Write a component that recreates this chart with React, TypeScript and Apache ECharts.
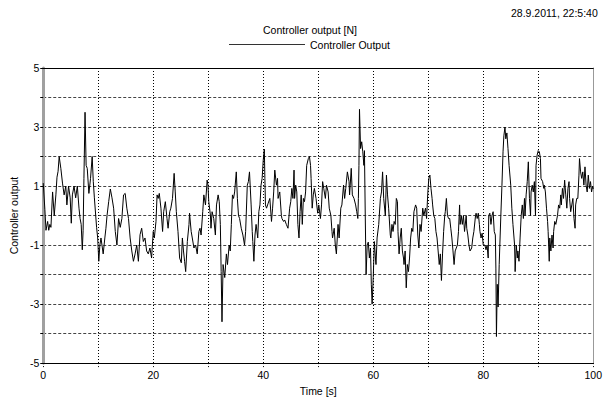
import React, { useEffect, useRef } from "react";
import * as echarts from "echarts";

const titleText = "Controller output [N]";
const seriesName = "Controller Output";
const timestamp = "28.9.2011, 22:5:40";
const xName = "Time [s]";
const yName = "Controller output";

// [time s, output N]
const seg0to20: number[][] = [
  [0, 1.1], [0.3, 0.2], [0.5, -0.5], [0.8, -0.2], [1.0, -0.5], [1.2, -0.3], [1.4, -0.4], [1.7, 0.8], [2.0, 0.0],
  [2.3, 0.7], [2.5, 1.3], [2.7, 1.5], [2.9, 2.0], [3.2, 1.6], [3.5, 1.1], [3.8, 0.7], [4.1, 1.0], [4.3, 0.36],
  [4.6, 1.0], [4.9, 0.6], [5.1, -0.26], [5.3, 0.7], [5.6, 1.0], [5.9, 0.6], [6.2, 1.0], [6.5, 0.25], [6.7, -0.1],
  [6.9, -0.3], [7.1, -1.16], [7.25, -0.5], [7.4, 1.26], [7.6, 3.5], [7.8, 1.7], [8.0, 1.6], [8.3, 0.75], [8.6, 1.26],
  [8.9, 2.0], [9.1, 1.15], [9.3, 0.6], [9.7, -0.4], [9.9, -0.76], [10.1, -1.55], [10.3, -1.0], [10.5, -0.76],
  [10.9, -1.3], [11.2, -0.76], [11.4, -0.43], [11.6, 0.0], [11.9, 0.47], [12.2, 0.9], [12.5, 0.6], [12.8, 0.25],
  [13.1, -0.54], [13.4, -1.0], [13.7, -0.1], [14.0, -0.4], [14.3, -0.1], [14.6, 0.7], [14.9, 0.75], [15.2, 0.25],
  [15.5, -0.1], [15.8, -0.76], [16.1, -1.2], [16.4, -1.55], [16.7, -1.3], [17.0, -1.0], [17.3, -1.55], [17.6, -0.65],
  [17.9, -0.43], [18.2, -0.88], [18.5, -0.76], [18.8, -1.2], [19.1, -1.3], [19.4, -1.1], [19.7, -1.44], [20.0, -0.54],
  [20.2, -0.76], [20.5, -0.2],
];
const seg20to40: number[][] = [
  [20.7, 0.7], [20.9, 0.58], [21.1, 0.75], [21.4, 0.25], [21.7, -0.54], [21.9, 0.13], [22.2, 0.47], [22.5, -0.1],
  [22.7, -0.43], [23.0, 0.13], [23.2, 0.25], [23.5, 0.58], [23.8, 1.43], [24.0, 0.8], [24.2, 0.13], [24.5, -0.54],
  [24.8, -1.44], [25.1, -1.6], [25.3, -0.76], [25.5, -1.2], [25.7, -1.55], [25.9, -1.9], [26.2, -0.88], [26.5, -0.3],
  [26.6, 0.08], [26.9, -0.54], [27.1, -0.76], [27.4, -1.1], [27.7, -1.0], [28.0, -1.3], [28.3, -0.54], [28.5, -0.43],
  [28.7, -0.66], [29.0, 0.13], [29.2, 0.7], [29.5, 0.36], [29.8, 1.2], [29.95, 1.03], [30.1, 0.47], [30.4, 0.0],
  [30.5, -0.43], [30.7, 0.13], [31.0, -0.1], [31.3, -0.66], [31.5, 0.36], [31.8, 0.7], [32.0, 0.47], [32.2, -0.3],
  [32.35, -1.9], [32.5, -3.6], [32.7, -1.66], [33.0, -2.1], [33.3, -1.3], [33.5, -1.66], [33.8, -1.0], [34.0, -1.2],
  [34.2, -0.3], [34.4, 0.7], [34.6, 0.58], [34.8, 0.8], [35.1, 1.48], [35.3, 0.58], [35.5, 0.0], [35.7, -0.1],
  [36.0, -0.43], [36.3, -0.66], [36.6, -1.0], [36.8, -0.54], [37.1, 1.03], [37.3, 1.15], [37.5, 1.48], [37.8, 0.36],
  [38.0, -0.54], [38.1, -0.88], [38.3, -1.55], [38.5, -0.66], [38.7, -0.3], [39.0, -0.76], [39.2, 0.13], [39.4, 0.36],
  [39.6, 1.03], [39.8, 1.26], [40.0, 1.88],
];
const seg40to60: number[][] = [
  [40.2, 2.25], [40.3, 1.26], [40.4, 0.36], [40.6, 0.25], [40.9, 0.42], [41.2, 0.58], [41.5, -0.2], [41.7, 0.25],
  [41.9, 0.8], [42.1, 1.54], [42.4, 1.03], [42.6, 1.26], [42.7, 0.58], [43.0, 0.8], [43.3, 0.0], [43.4, -0.1],
  [43.7, -0.2], [43.9, -0.15], [44.2, -0.3], [44.5, -0.43], [44.8, 0.25], [45.0, 0.47], [45.2, 0.92], [45.4, 0.58],
  [45.6, 1.54], [45.7, 0.58], [45.9, 1.03], [46.1, 0.8], [46.3, -0.3], [46.5, -0.76], [46.7, 0.13], [46.9, 0.7],
  [47.1, -0.3], [47.3, 0.58], [47.5, 0.47], [47.7, 0.8], [47.9, 1.7], [48.2, 1.93], [48.4, 2.0], [48.6, 1.7],
  [48.7, 1.26], [48.9, 0.25], [49.1, 0.7], [49.3, 0.92], [49.6, 0.58], [49.9, 0.08], [50.1, 0.36], [50.4, -0.1],
  [50.6, 0.36], [50.8, 1.15], [51.0, 0.92], [51.3, 0.58], [51.5, 1.03], [51.8, 0.8], [52.0, 0.25], [52.3, 0.0],
  [52.5, -0.54], [52.6, -0.76], [52.9, -0.43], [53.1, -1.0], [53.3, -1.3], [53.6, -0.3], [53.8, -0.76], [54.1, 0.25],
  [54.3, 0.36], [54.6, 1.03], [54.8, 0.58], [55.0, 0.92], [55.3, 1.48], [55.6, 1.15], [55.7, 0.7], [56.0, 1.6],
  [56.2, 0.7], [56.5, 0.58], [56.8, 0.36], [57.0, 0.13], [57.2, -0.1], [57.3, 0.58], [57.4, 1.7], [57.5, 3.6],
  [57.7, 2.27], [57.9, 2.5], [58.1, 2.16], [58.3, 1.7], [58.4, 2.2], [58.55, 0.0], [58.7, -2.0], [58.9, -1.0],
  [59.1, -0.9], [59.3, -1.44], [59.5, -1.1], [59.65, -2.33], [59.8, -3.0], [60.0, -2.1], [60.2, -0.88],
];
const seg60to80: number[][] = [
  [60.4, -1.44], [60.5, -1.66], [60.7, -0.76], [61.0, -0.3], [61.1, 0.0], [61.3, 0.58], [61.5, 0.8], [61.7, 1.48],
  [61.9, 0.58], [62.2, 0.0], [62.4, 1.37], [62.6, 0.7], [62.8, 0.25], [63.1, -0.66], [63.2, -0.76], [63.4, -0.3],
  [63.6, -0.54], [63.8, -0.2], [64.0, -0.3], [64.2, 0.58], [64.4, 0.47], [64.5, -0.54], [64.7, -1.3], [64.9, -0.76],
  [65.1, -0.43], [65.3, -1.2], [65.5, -1.44], [65.6, -1.66], [65.8, -1.2], [66.0, -2.45], [66.2, -1.66], [66.4, -1.9],
  [66.6, -1.44], [66.8, -0.76], [67.0, -0.43], [67.2, -0.54], [67.4, 0.13], [67.7, 0.36], [67.9, 0.25], [68.1, -0.66],
  [68.3, -1.1], [68.5, -0.3], [68.7, -0.54], [69.0, 0.25], [69.2, 0.0], [69.5, 0.25], [69.7, -0.1], [69.9, 0.7],
  [70.1, 1.26], [70.3, 1.37], [70.5, 0.92], [70.7, 0.58], [70.8, 0.36], [71.0, 0.0], [71.2, -0.1], [71.4, -0.54],
  [71.6, -0.76], [71.8, -1.2], [72.0, -1.66], [72.2, -1.3], [72.4, -2.2], [72.6, -1.3], [72.8, -0.54], [73.0, 0.0],
  [73.1, 0.13], [73.3, 0.58], [73.5, 0.0], [73.7, -0.1], [73.9, -0.1], [74.1, -0.43], [74.3, -0.76], [74.5, -1.2],
  [74.7, -1.66], [74.9, -1.2], [75.1, -1.1], [75.3, -1.0], [75.5, -0.54], [75.7, 0.36], [75.8, -0.3], [76.0, 0.0],
  [76.2, -0.3], [76.4, 0.0], [76.6, -0.54], [76.9, 0.0], [77.0, -0.43], [77.2, -0.66], [77.4, -1.0], [77.6, -1.2],
  [77.9, -1.1], [78.1, -0.76], [78.3, -0.54], [78.6, 0.0], [78.7, 0.08], [78.9, -0.1], [79.1, 0.08], [79.3, -0.3],
  [79.4, -0.54], [79.6, -0.76], [79.8, -0.6], [80.0, -1.0],
];
const seg80to100: number[][] = [
  [80.3, -1.0], [80.5, -1.16], [80.7, -1.0], [80.9, -1.44], [81.0, 0.0], [81.2, 0.08], [81.4, -0.3], [81.6, 0.0],
  [81.8, 0.13], [82.0, -0.54], [82.2, -0.66], [82.3, -1.78], [82.4, -4.1], [82.55, -2.33], [82.7, -3.1], [82.9, -1.66],
  [83.0, -1.1], [83.2, 0.0], [83.4, 1.03], [83.6, 2.16], [83.75, 2.7], [83.95, 3.0], [84.1, 2.6], [84.3, 2.8],
  [84.5, 2.27], [84.7, 1.7], [85.0, 1.03], [85.2, 0.25], [85.4, -0.3], [85.7, -1.0], [85.8, -1.9], [86.0, -1.0],
  [86.2, -1.44], [86.3, -1.2], [86.5, -1.55], [86.7, -0.76], [86.9, 0.0], [87.1, 0.36], [87.3, -0.1], [87.5, 0.58],
  [87.6, 0.0], [87.8, 0.7], [88.0, 1.15], [88.2, 1.82], [88.4, 0.58], [88.6, 0.0], [88.7, 0.8], [88.9, 1.03],
  [89.1, 0.8], [89.3, 1.15], [89.5, 0.0], [89.6, 1.7], [89.8, 2.05], [90.0, 2.2], [90.2, 2.16], [90.4, 1.93],
  [90.5, 1.26], [90.8, 1.15], [91.0, 0.92], [91.1, 1.03], [91.3, 0.8], [91.5, 0.25], [91.7, -0.2], [91.8, -0.54],
  [92.0, -1.55], [92.1, -0.76], [92.3, -1.2], [92.5, -0.66], [92.7, -1.1], [92.8, -0.54], [93.0, -0.2], [93.2, -0.3],
  [93.5, 0.0], [93.7, 0.36], [93.9, 0.25], [94.1, 0.7], [94.2, 0.36], [94.4, 0.92], [94.6, 0.58], [94.8, 1.2],
  [95.0, 0.7], [95.2, 0.25], [95.4, 0.92], [95.6, 1.15], [95.7, 0.58], [95.9, 0.13], [96.1, 0.36], [96.3, 0.58],
  [96.5, -0.1], [96.7, -0.43], [96.8, 0.36], [97.0, 0.58], [97.2, 0.58], [97.4, 1.37], [97.5, 1.93], [97.7, 1.48],
  [97.9, 1.26], [98.1, 1.48], [98.3, 1.03], [98.5, 1.65], [98.7, 1.03], [98.9, 0.8], [99.1, 1.37], [99.3, 0.92],
  [99.5, 1.15], [99.7, 0.8], [99.9, 1.0], [100, 0.9],
];

const FONT = "'Liberation Sans', Arial, sans-serif";
const FS = 10.5;

export default function App() {
  const ref = useRef<HTMLDivElement>(null);
  useEffect(() => {
    if (!ref.current) return;
    const chart = echarts.init(ref.current, undefined, { renderer: "svg" });
    const data = seg0to20.concat(seg20to40, seg40to60, seg60to80, seg80to100);
    const textBase = { fontFamily: FONT, fontSize: FS, color: "#000" };
    chart.setOption({
      animation: false,
      backgroundColor: "#fff",
      title: {
        text: titleText,
        left: 263,
        top: 24,
        padding: 0,
        textStyle: { ...textBase, fontWeight: "normal" },
      },
      legend: {
        left: 229,
        top: 39,
        padding: 0,
        icon: "rect",
        itemWidth: 76,
        itemHeight: 1,
        itemStyle: { color: "#333" },
        textStyle: { ...textBase },
        data: [seriesName],
      },
      graphic: [
        {
          type: "text",
          left: 511,
          top: 7,
          style: { text: timestamp, font: `${FS}px ${FONT}`, fill: "#000" },
        },
      ],
      grid: { left: 42, right: 6, top: 68, bottom: 37, show: false },
      xAxis: [
        {
          type: "value",
          min: 0,
          max: 100,
          interval: 10,
          name: xName,
          nameLocation: "middle",
          nameGap: 20,
          nameTextStyle: { ...textBase },
          axisLine: { show: true, onZero: false, lineStyle: { color: "#000", width: 1 } },
          axisTick: { show: true, length: 4, lineStyle: { color: "#000", type: [1, 2] } },
          axisLabel: {
            ...textBase,
            margin: 6,
            formatter: (v: number) => (v % 20 === 0 ? String(v) : ""),
          },
          splitLine: { show: true, lineStyle: { color: "#000", type: [1, 2], width: 1 } },
        },
        {
          type: "value",
          position: "top",
          min: 0,
          max: 100,
          interval: 10,
          axisLine: { show: true, onZero: false, lineStyle: { color: "#000", width: 1 } },
          axisTick: { show: false },
          axisLabel: { show: false },
          splitLine: { show: false },
        },
      ],
      yAxis: [
        {
          type: "value",
          min: -5,
          max: 5,
          interval: 1,
          name: yName,
          nameLocation: "middle",
          nameGap: 21,
          nameTextStyle: { ...textBase },
          axisLine: { show: true, onZero: false, lineStyle: { color: "#a0a0a0", width: 3 } },
          axisTick: { show: true, length: 3, lineStyle: { color: "#000" } },
          axisLabel: {
            ...textBase,
            margin: 4,
            formatter: (v: number) => (Math.abs(v) % 2 === 1 ? String(v) : ""),
          },
          splitLine: { show: true, lineStyle: { color: "#444", type: [3, 2], width: 1 } },
        },
        {
          type: "value",
          position: "right",
          min: -5,
          max: 5,
          interval: 1,
          axisLine: { show: true, onZero: false, lineStyle: { color: "#999", width: 1 } },
          axisTick: { show: false },
          axisLabel: { show: false },
          splitLine: { show: false },
        },
      ],
      series: [
        {
          name: seriesName,
          type: "line",
          xAxisIndex: 0,
          yAxisIndex: 0,
          symbol: "none",
          showSymbol: false,
          lineStyle: { color: "#000", width: 1 },
          itemStyle: { color: "#000" },
          data,
        },
      ],
    });
    return () => chart.dispose();
  }, []);
  return (
    <div
      ref={ref}
      style={{ position: "fixed", left: 0, top: 0, width: 605, height: 401, background: "#fff" }}
    />
  );
}
